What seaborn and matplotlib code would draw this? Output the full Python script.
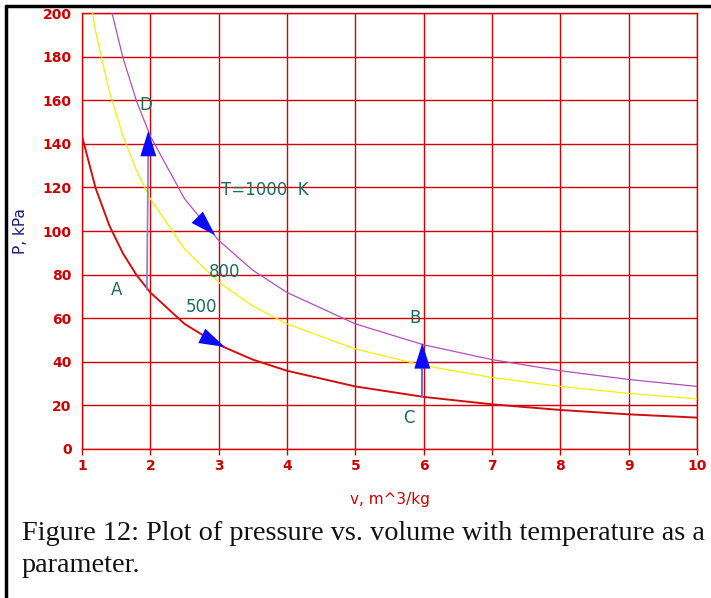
import matplotlib.pyplot as plt
import matplotlib.lines as mlines
import pandas as pd
import seaborn as sns

# isotherm data
v_vals = [1.0, 1.2, 1.4, 1.6, 1.8, 2.0, 2.5, 3.0, 3.5, 4.0, 5.0, 6.0, 7.0, 8.0, 9.0, 10.0]
p_500 = [143.5, 119.6, 102.5, 89.7, 79.7, 71.8, 57.4, 47.8, 41.0, 35.9, 28.7, 23.9, 20.5, 17.9, 15.9, 14.4]
p_800 = [229.6, 191.3, 164.0, 143.5, 127.6, 114.8, 91.8, 76.5, 65.6, 57.4, 45.9, 38.3, 32.8, 28.7, 25.5, 23.0]
p_1000 = [287.0, 239.2, 205.0, 179.4, 159.4, 143.5, 114.8, 95.7, 82.0, 71.8, 57.4, 47.8, 41.0, 35.9, 31.9, 28.7]
temps = ["500", "800", "1000"]

# process lines and state labels
line_AD_v = [1.95, 1.97]
line_AD_p = [73, 140]
line_CB_v = [5.98, 5.98]
line_CB_p = [24, 40]
state_labels = ["A", "B", "C", "D"]
state_v = [1.51, 5.88, 5.79, 1.94]
state_p = [73, 60, 14, 158]
curve_labels = ["T=1000  K", "800", "500"]
curve_label_v = [3.03, 2.86, 2.52]
curve_label_p = [119, 81, 65]

rows = []
for t, ps in zip(temps, [p_500, p_800, p_1000]):
    for v, p in zip(v_vals, ps):
        rows.append({"v": v, "P": p, "T": t})
df = pd.DataFrame(rows)

sns.set_style("white")
red = "#cc0000"
teal = "#1f6b5c"

fig = plt.figure(figsize=(7.11, 5.98), dpi=100)
ax = fig.add_axes([82 / 711, 149 / 598, 615 / 711, 436 / 598])

sns.lineplot(data=df, x="v", y="P", hue="T", hue_order=temps,
             palette={"500": "#d01010", "800": "#f5f000", "1000": "#b050c0"},
             size="T", sizes={"500": 1.4, "800": 0.9, "1000": 0.9},
             legend=False, ax=ax, zorder=3)

ax.set_xlim(1, 10)
ax.set_ylim(0, 200)
ax.set_xticks(range(1, 11))
ax.set_yticks(range(0, 201, 20))
ax.grid(True, color="#d40000", linewidth=1.0)
ax.set_axisbelow(True)
for s in ax.spines.values():
    s.set_color("#d40000")
    s.set_linewidth(1.0)
ax.tick_params(axis="both", colors=red, labelsize=10, length=4, width=1, direction="out",
               bottom=True, left=False)
for lab in ax.get_xticklabels() + ax.get_yticklabels():
    lab.set_fontweight("bold")

ax.set_xlabel("v, m^3/kg", color=red, fontsize=11)
ax.set_ylabel("P, kPa", color="#1a1a80", fontsize=11)
ax.xaxis.set_label_coords(0.5, -0.099)
ax.yaxis.set_label_coords(-0.088, 0.5)

# process lines
ax.plot(line_AD_v, line_AD_p, color="#8080c8", linewidth=1.2, zorder=4)
ax.plot(line_CB_v, line_CB_p, color="#7070c0", linewidth=1.5, zorder=4)

# arrow heads
arrows = [((1.97, 134), (1.97, 146)), ((2.68, 106.5), (2.95, 98)),
          ((2.78, 51.5), (3.09, 46.8)), ((5.98, 38.5), (5.98, 48.6))]
for (x0, y0), (x1, y1) in arrows:
    ax.annotate("", xy=(x1, y1), xytext=(x0, y0),
                arrowprops=dict(arrowstyle="-|>,head_length=1.6,head_width=0.5",
                                mutation_scale=11.5, color="#0a0aff", lw=0,
                                shrinkA=0, shrinkB=0), zorder=5)

for lab, x, y in zip(state_labels, state_v, state_p):
    ax.text(x, y, lab, color=teal, fontsize=12, ha="center", va="center", zorder=6)
for lab, x, y in zip(curve_labels, curve_label_v, curve_label_p):
    ax.text(x, y, lab, color=teal, fontsize=12, ha="left", va="center", zorder=6)

# border of the figure box
fig.add_artist(mlines.Line2D([6 / 711, 6 / 711], [0, 1 - 6 / 598], color="black", linewidth=2.5))
fig.add_artist(mlines.Line2D([6 / 711, 1], [1 - 6 / 598, 1 - 6 / 598], color="black", linewidth=2.5))

fig.text(22 / 711, 1 - 521 / 598,
         "Figure 12: Plot of pressure vs. volume with temperature as a\nparameter.",
         family="Liberation Serif", fontsize=20.3, ha="left", va="top",
         linespacing=1.38, color="#111111")

fig.savefig("out.png", dpi=100)
